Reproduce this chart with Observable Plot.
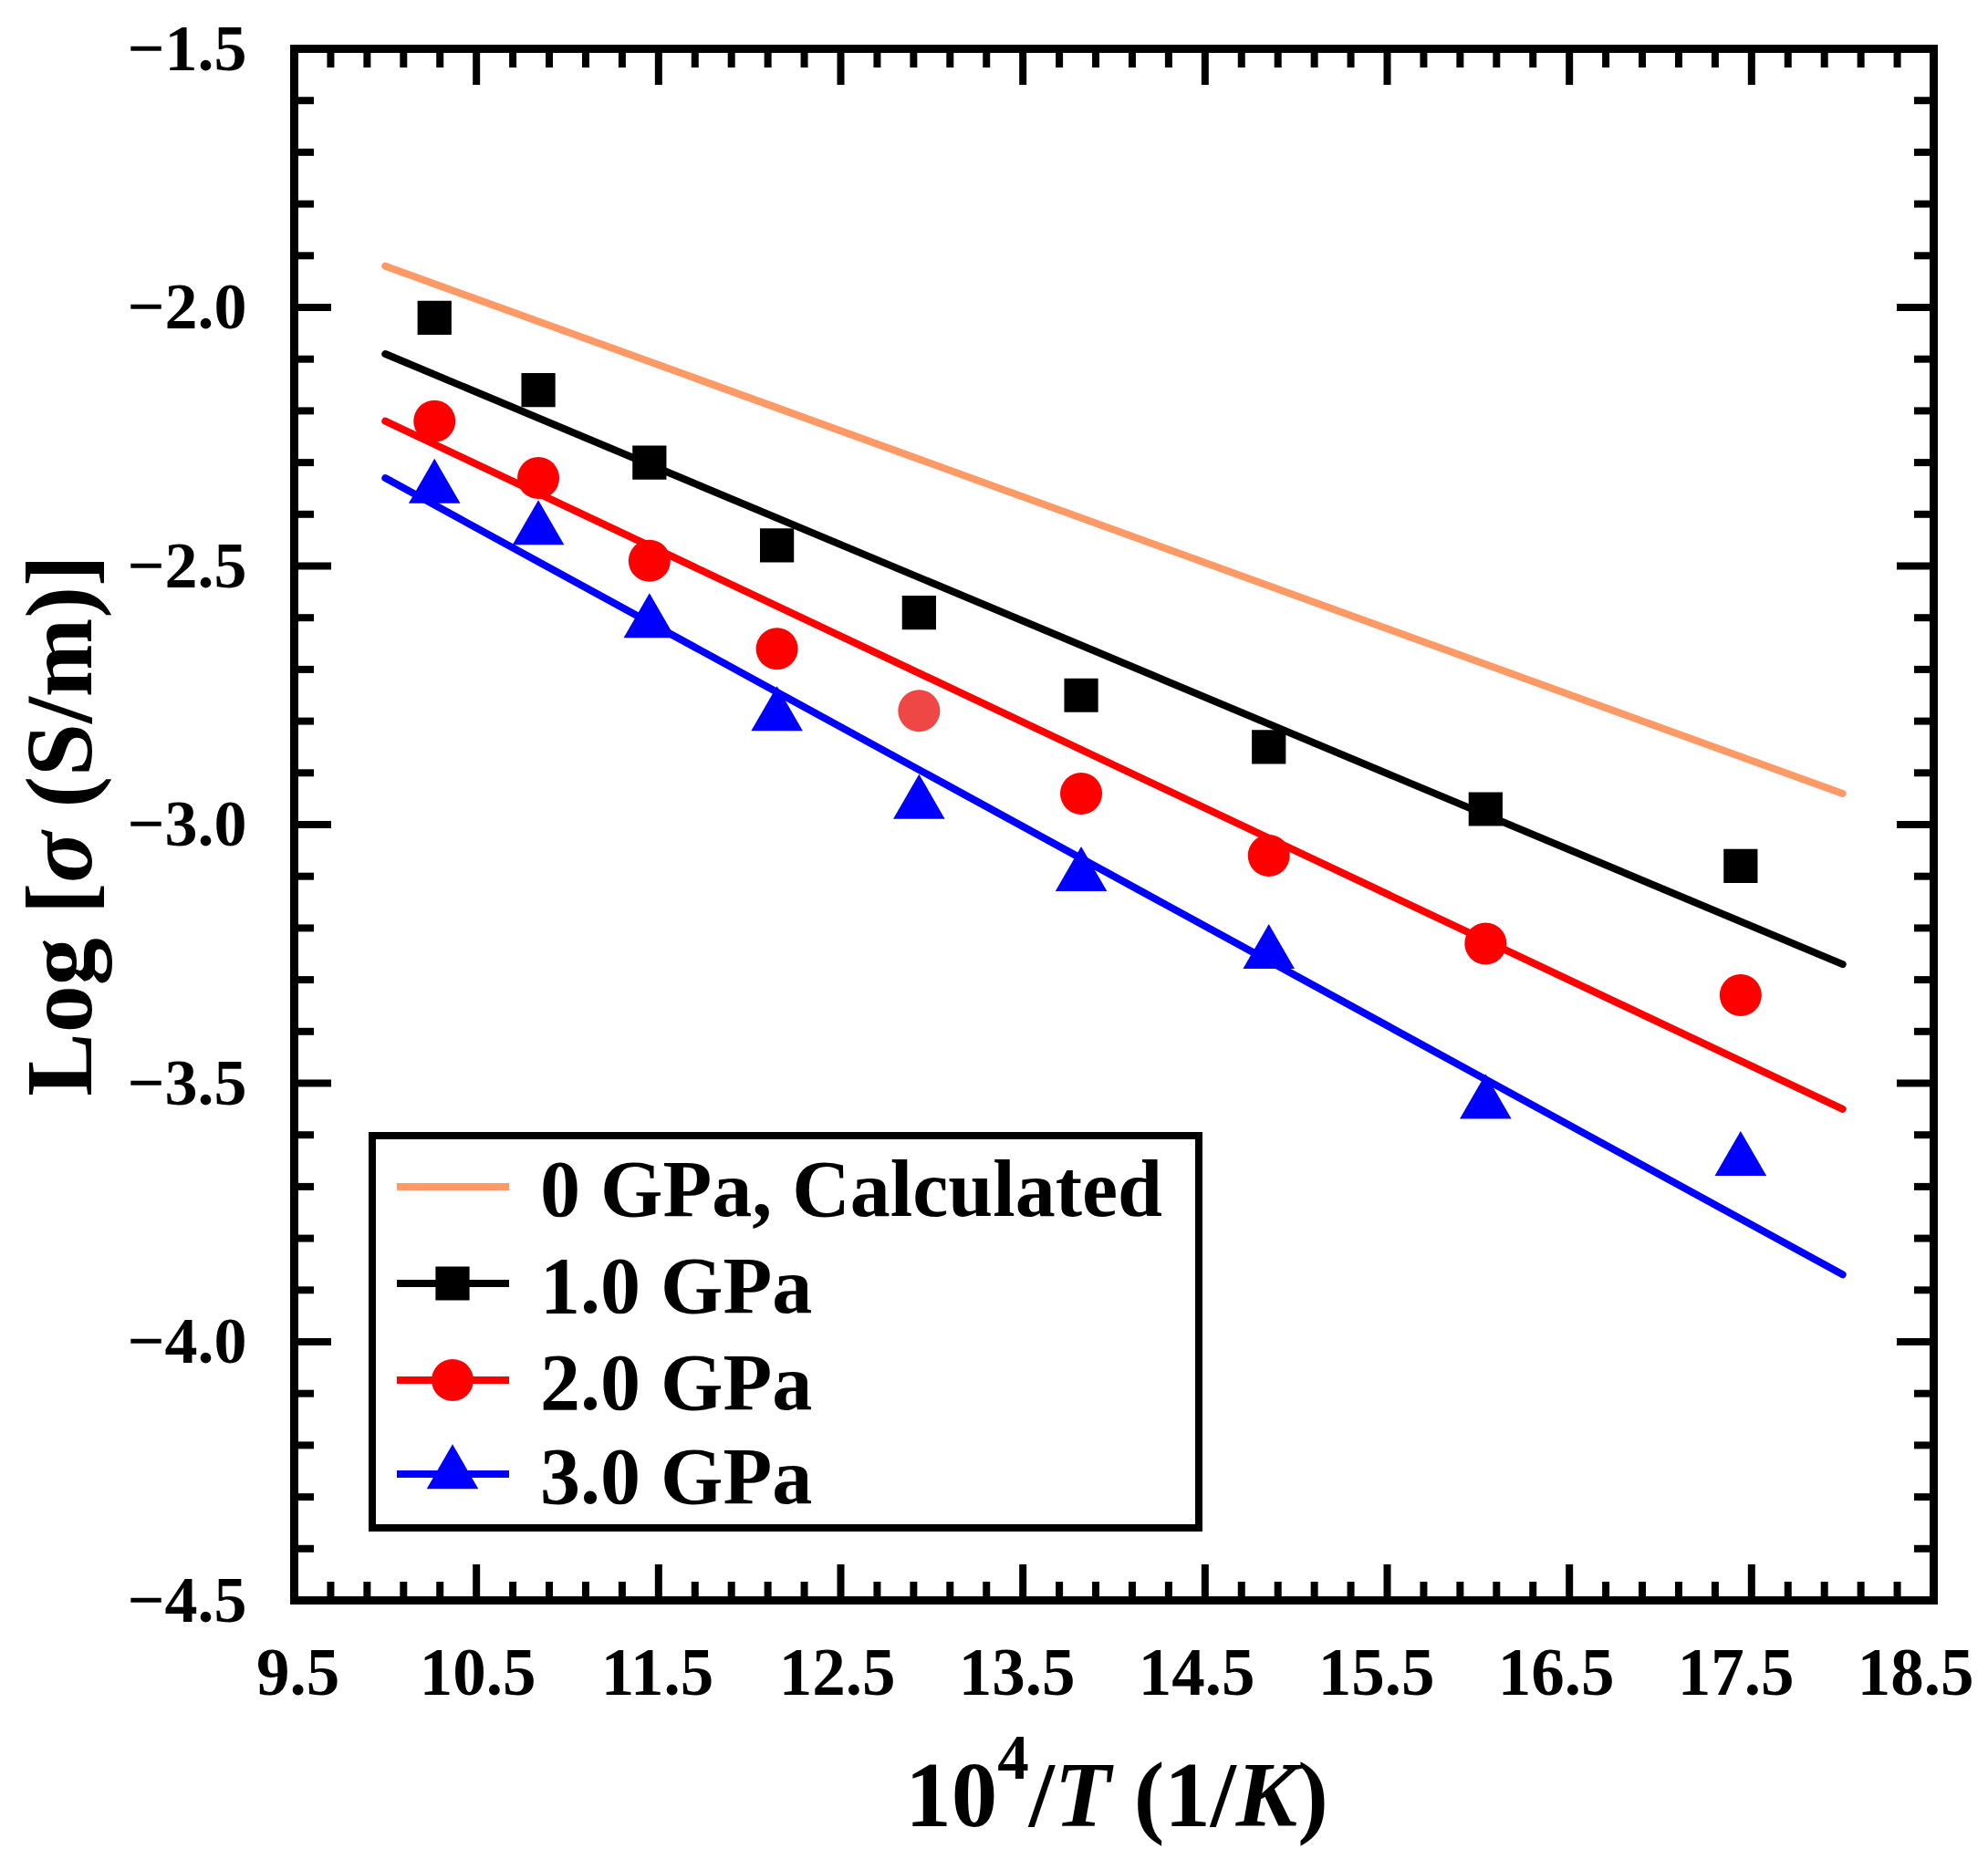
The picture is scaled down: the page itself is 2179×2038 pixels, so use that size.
<!DOCTYPE html>
<html>
<head>
<meta charset="utf-8">
<script src="https://cdn.jsdelivr.net/npm/d3@7"></script>
<script src="https://cdn.jsdelivr.net/npm/@observablehq/plot@0.6"></script>
<style>
  body { margin: 0; background: #fff; }
  #chart svg { display: block; }
</style>
</head>
<body>
<div id="chart"></div>
<script>
// data: 10^4/T and log conductivity
const invT = [10.27, 10.84, 11.45, 12.15, 12.93, 13.82, 14.85, 16.04, 17.44];
const logSigma1 = [-2.02, -2.16, -2.30, -2.46, -2.59, -2.75, -2.85, -2.97, -3.08];
const logSigma2 = [-2.22, -2.33, -2.49, -2.66, -2.78, -2.94, -3.06, -3.23, -3.33];
const logSigma3 = [-2.35, -2.43, -2.61, -2.79, -2.96, -3.10, -3.25, -3.54, -3.65];

// fitted / calculated lines (end points)
const fitX = [10.0, 18.0];
const fit0 = [-1.92, -2.94];
const fit1 = [-2.09, -3.27];
const fit2 = [-2.22, -3.55];
const fit3 = [-2.33, -3.87];

const seriesNames = ["0 GPa, Calculated", "1.0 GPa", "2.0 GPa", "3.0 GPa"];
const seriesColors = ["#ff9966", "#000000", "#ff0000", "#0000ff"];
const seriesSymbols = [null, "square", "circle", "triangle"];

const xTicks = [9.5, 10.5, 11.5, 12.5, 13.5, 14.5, 15.5, 16.5, 17.5, 18.5];
const yTicks = [-4.5, -4.0, -3.5, -3.0, -2.5, -2.0, -1.5];
const xMinor = d3.range(0, 46).filter(i => i % 5 !== 0).map(i => 9.5 + i * 0.2);
const yMinor = d3.range(0, 31).filter(i => i % 5 !== 0).map(i => -4.5 + i * 0.1);

const font = "'Liberation Serif', 'Times New Roman', serif";
const fmt = d => d.toFixed(1).replace("-", "\u2212");

const lineData = (ys) => fitX.map((x, i) => ({x, y: ys[i]}));
const pointData = (ys) => invT.map((x, i) => ({x, y: ys[i]}));

const symbolR = {square: 21, circle: 23, triangle: 21};
const lineW = 8;

// inward ticks on all four sides
function inwardTicks(values, size) {
  const o = {stroke: "black", strokeWidth: 8, tickSize: size, fill: "none", label: null};
  return [
    Plot.axisX(values.x, {...o, anchor: "top", frameAnchor: "bottom"}),
    Plot.axisX(values.x, {...o, anchor: "bottom", frameAnchor: "top"}),
    Plot.axisY(values.y, {...o, anchor: "right", frameAnchor: "left"}),
    Plot.axisY(values.y, {...o, anchor: "left", frameAnchor: "right"})
  ];
}

// x tick labels sit a little left of their ticks towards the right end, as in the original
const xLabels = xTicks.map((t, i) =>
  Plot.axisX([t], {anchor: "bottom", tickSize: 0, tickPadding: 52, fontSize: 73,
    tickFormat: fmt, label: null, dx: 4 - 24 * i / 9}));

const chart = Plot.plot({
  width: 2179,
  height: 2038,
  marginLeft: 322,
  marginRight: 60,
  marginTop: 53,
  marginBottom: 284,
  x: {domain: [9.5, 18.5]},
  y: {domain: [-4.5, -1.5]},
  style: {fontFamily: font, fontWeight: "bold", background: "white", color: "black"},
  marks: [
    Plot.line(lineData(fit0), {x: "x", y: "y", stroke: seriesColors[0], strokeWidth: lineW}),
    Plot.line(lineData(fit1), {x: "x", y: "y", stroke: seriesColors[1], strokeWidth: lineW}),
    Plot.line(lineData(fit2), {x: "x", y: "y", stroke: seriesColors[2], strokeWidth: lineW}),
    Plot.line(lineData(fit3), {x: "x", y: "y", stroke: seriesColors[3], strokeWidth: lineW}),

    Plot.dot(pointData(logSigma1), {x: "x", y: "y", symbol: "square", r: symbolR.square, fill: seriesColors[1]}),
    Plot.dot(pointData(logSigma2), {x: "x", y: "y", symbol: "circle", r: symbolR.circle,
      fill: (d, i) => i === 4 ? "#ef4646" : seriesColors[2]}),
    Plot.dot(pointData(logSigma3), {x: "x", y: "y", symbol: "triangle", r: symbolR.triangle, fill: seriesColors[3]}),

    ...inwardTicks({x: xTicks, y: yTicks}, 40),
    ...inwardTicks({x: xMinor, y: yMinor}, 21),

    ...xLabels,
    Plot.axisY(yTicks, {anchor: "left", tickSize: 0, tickPadding: 52, fontSize: 72, tickFormat: fmt, label: null}),

    Plot.frame({stroke: "black", strokeWidth: 9})
  ]
});

const svg = d3.select(chart);

// x axis title
const xt = svg.append("text")
  .attr("x", 1224).attr("y", 2002)
  .attr("text-anchor", "middle")
  .attr("font-family", font).attr("font-weight", "bold").attr("font-size", 101)
  .attr("fill", "black");
xt.append("tspan").text("10");
xt.append("tspan").attr("dy", -52).attr("font-size", 69).text("4");
xt.append("tspan").attr("dy", 52).text("/");
xt.append("tspan").attr("font-style", "italic").text("T");
xt.append("tspan").text(" (1/");
xt.append("tspan").attr("font-style", "italic").text("K");
xt.append("tspan").text(")");

// y axis title
const yt = svg.append("text")
  .attr("transform", "translate(100,905) rotate(-90)")
  .attr("text-anchor", "middle")
  .attr("font-family", font).attr("font-weight", "bold").attr("font-size", 104)
  .attr("fill", "black");
yt.append("tspan").text("Log [");
yt.append("tspan").attr("font-style", "italic").text("\u03c3");
yt.append("tspan").text(" (S/m)]");

// legend
const lg = svg.append("g");
lg.append("rect")
  .attr("x", 408).attr("y", 1245).attr("width", 906).attr("height", 430)
  .attr("fill", "white").attr("stroke", "black").attr("stroke-width", 8);
const rowY = [1301, 1407, 1513, 1616];
seriesNames.forEach((name, i) => {
  const row = lg.append("g").attr("transform", `translate(0,${rowY[i]})`);
  row.append("line")
    .attr("x1", 435).attr("x2", 558).attr("y1", 0).attr("y2", 0)
    .attr("stroke", seriesColors[i]).attr("stroke-width", lineW);
  const s = seriesSymbols[i];
  if (s) {
    const r = symbolR[s];
    const type = s === "square" ? d3.symbolSquare : s === "circle" ? d3.symbolCircle : d3.symbolTriangle;
    row.append("path")
      .attr("transform", "translate(496,0)")
      .attr("d", d3.symbol(type, r * r * Math.PI)())
      .attr("fill", seriesColors[i]);
  }
  row.append("text")
    .attr("x", 592).attr("y", 32)
    .attr("text-anchor", "start")
    .attr("font-family", font).attr("font-weight", "bold").attr("font-size", 88)
    .attr("fill", "black")
    .text(name);
});

document.getElementById("chart").append(chart);
</script>
</body>
</html>
